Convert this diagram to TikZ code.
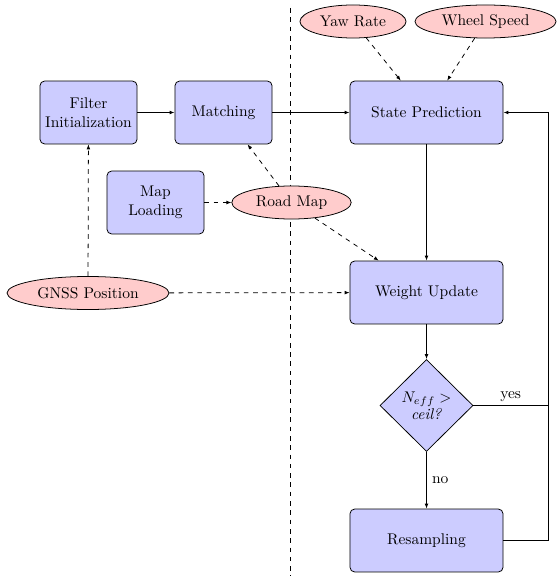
\documentclass[tikz,border=0pt]{standalone}
\usetikzlibrary{shapes.geometric,arrows.meta}
\begin{document}
\begin{tikzpicture}[x=0.645pt,y=-0.645pt, line width=0.5pt,
  >={Latex[length=3.2pt,width=2.4pt]},
  procbox/.style={draw, rounded corners=3pt, fill=blue!20, align=center, minimum height=40.6pt, inner sep=1pt},
  smallbox/.style={procbox, minimum width=62.6pt},
  bigbox/.style={procbox, minimum width=98.7pt},
  datanode/.style={draw, ellipse, fill=red!20, minimum height=21.3pt, inner sep=0pt},
  decide/.style={draw, diamond, fill=blue!20, align=center, minimum width=60pt, minimum height=59.3pt, inner sep=0pt},
  flow/.style={->},
  dataflow/.style={->, dashed},
  divider/.style={dashed, semithick}]
\useasboundingbox (0,0) rectangle (556,576);
\coordinate (divtop) at (290,8);
\coordinate (divbot) at (290,576);
\draw[divider] (divtop) -- (divbot);

\node[smallbox] (init) at (88.5,112.5) {Filter\\Initialization};
\node[smallbox] (match) at (223.5,112.5) {Matching};
\node[smallbox] (load) at (155.5,202.5) {Map\\Loading};
\node[datanode, minimum width=77pt] (road) at (291.5,202.5) {Road Map};
\node[bigbox] (pred) at (426.5,112.5) {State Prediction};
\node[datanode, minimum width=68.4pt] (yaw) at (353,21.5) {Yaw Rate};
\node[datanode, minimum width=91pt] (wheel) at (485.5,21.5) {Wheel Speed};
\node[bigbox] (weight) at (426.5,292.5) {Weight Update};
\node[decide] (neff) at (426.5,405.5) {$N_{eff}>$\\[-1pt]\textit{ceil?}};
\node[bigbox] (resamp) at (426.5,540.5) {Resampling};
\node[datanode, minimum width=104.5pt] (gnss) at (88,293) {GNSS Position};
\coordinate (loopA) at (548,540.5);
\coordinate (loopB) at (548,112.5);
\coordinate (yesend) at (548,405.5);

\draw[flow] (init) -- (match);
\draw[flow] (match) -- (pred);
\draw[dataflow] (yaw) -- (pred);
\draw[dataflow] (wheel) -- (pred);
\draw[dataflow] (road) -- (match);
\draw[dataflow] (load) -- (road);
\draw[dataflow] (road) -- (weight);
\draw[dataflow] (gnss) -- (init);
\draw[dataflow] (gnss) -- (weight);
\draw[flow] (pred) -- (weight);
\draw[flow] (weight) -- (neff);
\draw[flow] (neff) -- node[right, pos=0.5] {no} (resamp);
\draw (neff.east) -- node[above, pos=0.5, yshift=-1pt] {yes} (yesend);
\draw[flow] (resamp.east) -- (loopA) -- (loopB) -- (pred.east);
\end{tikzpicture}
\end{document}
